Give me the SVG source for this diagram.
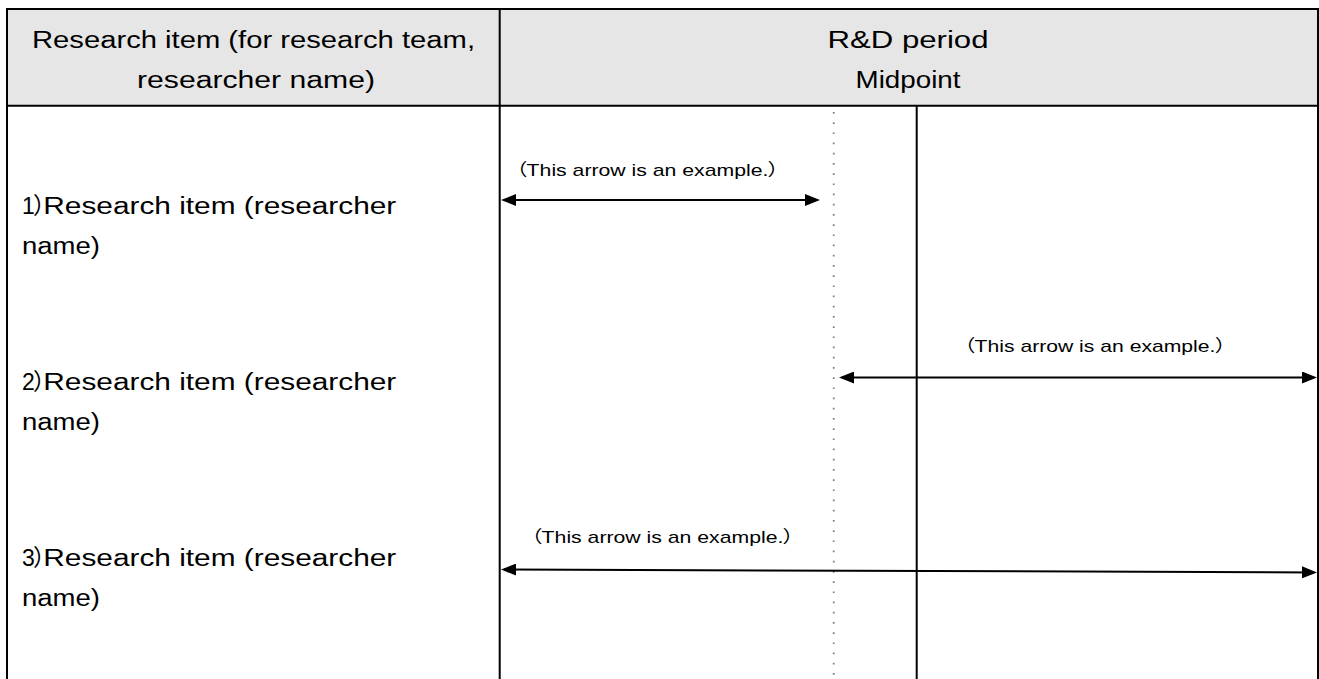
<svg xmlns="http://www.w3.org/2000/svg" width="1319" height="679" viewBox="0 0 1319 679">
  <style>
    .t { font-family: "Liberation Sans", Arial, "Noto Sans CJK JP", sans-serif; fill: #000; }
    .big { font-size: 23px; }
    .small { font-size: 17px; }
    .p { font-feature-settings: "palt" 1; }
    .grid { stroke: #000; stroke-width: 2; fill: none; }
    .arrow { stroke: #000; stroke-width: 2; fill: none; marker-start: url(#head); marker-end: url(#head); }
  </style>
  <defs>
    <marker id="head" viewBox="0 0 15 12" refX="12" refY="6" markerWidth="15" markerHeight="12" markerUnits="userSpaceOnUse" orient="auto-start-reverse">
      <path d="M0,0 L15,6 L0,12 z" fill="#000"/>
    </marker>
  </defs>
  <rect width="1319" height="679" fill="#fff"/>

  <g id="header">
    <rect x="7" y="9" width="1311" height="96.7" fill="#e6e6e6"/>
    <text class="t big" x="32" y="48" textLength="443" lengthAdjust="spacingAndGlyphs">Research item (for research team,</text>
    <text class="t big" x="137" y="87.5" textLength="238" lengthAdjust="spacingAndGlyphs">researcher name)</text>
    <text class="t big" x="908" y="48" text-anchor="middle" textLength="161" lengthAdjust="spacingAndGlyphs">R&amp;D period</text>
    <text class="t big" x="908" y="87.5" text-anchor="middle" textLength="105" lengthAdjust="spacingAndGlyphs">Midpoint</text>
  </g>

  <g id="grid">
    <path class="grid" d="M7,690 V9 H1318 V690"/>
    <line class="grid" x1="7" y1="105.7" x2="1318" y2="105.7"/>
    <line class="grid" x1="499.7" y1="9" x2="499.7" y2="690"/>
    <line class="grid" x1="916.7" y1="105.7" x2="916.7" y2="690"/>
    <line x1="833.7" y1="112" x2="833.7" y2="679" stroke="#7a7a7a" stroke-width="1.7" stroke-dasharray="1.7 8.5"/>
  </g>

  <g id="row1">
    <text class="t big p" x="22" y="214">1<tspan dx="-1">）</tspan><tspan dx="-2" textLength="353" lengthAdjust="spacingAndGlyphs">Research item (researcher</tspan></text>
    <text class="t big" x="22" y="254" textLength="78" lengthAdjust="spacingAndGlyphs">name)</text>
  </g>
  <g id="row2">
    <text class="t big p" x="22" y="390">2<tspan dx="-1">）</tspan><tspan dx="-2" textLength="353" lengthAdjust="spacingAndGlyphs">Research item (researcher</tspan></text>
    <text class="t big" x="22" y="430" textLength="78" lengthAdjust="spacingAndGlyphs">name)</text>
  </g>
  <g id="row3">
    <text class="t big p" x="22" y="566">3<tspan dx="-1">）</tspan><tspan dx="-2" textLength="353" lengthAdjust="spacingAndGlyphs">Research item (researcher</tspan></text>
    <text class="t big" x="22" y="606" textLength="78" lengthAdjust="spacingAndGlyphs">name)</text>
  </g>

  <g id="connectors">
    <line class="arrow" x1="504" y1="200" x2="817" y2="200"/>
    <text class="t small p" x="516" y="176" textLength="263" lengthAdjust="spacingAndGlyphs">（This arrow is an example.）</text>
    <line class="arrow" x1="842" y1="377.5" x2="1314" y2="377.5"/>
    <text class="t small p" x="964" y="352" textLength="262" lengthAdjust="spacingAndGlyphs">（This arrow is an example.）</text>
    <line class="arrow" x1="504" y1="569.5" x2="1314" y2="572.4"/>
    <text class="t small p" x="531" y="543" textLength="263" lengthAdjust="spacingAndGlyphs">（This arrow is an example.）</text>
  </g>
</svg>
